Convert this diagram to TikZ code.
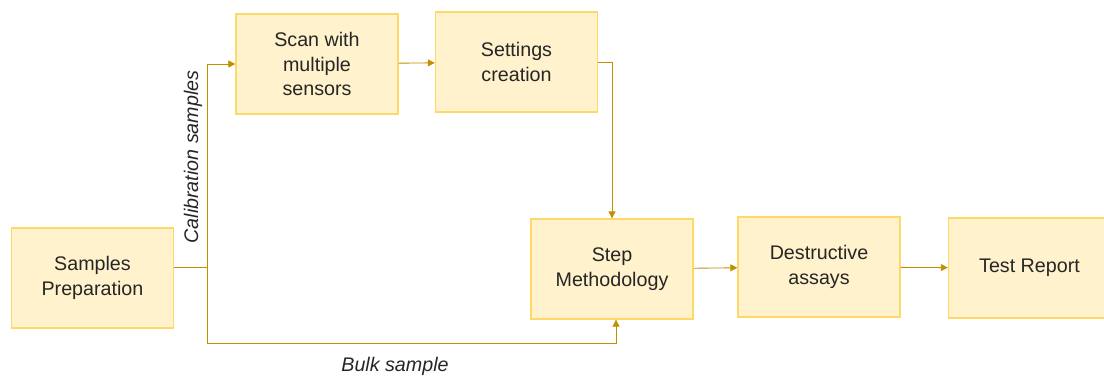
\documentclass[tikz,border=0pt]{standalone}
\usepackage{fontspec}
\setmainfont{Liberation Sans}
\usetikzlibrary{arrows.meta}
\definecolor{boxfill}{HTML}{FFF2CC}
\definecolor{boxline}{HTML}{FFD966}
\definecolor{flowline}{HTML}{BF9000}
\begin{document}
\begin{tikzpicture}[x=0.025cm,y=-0.025cm,
    box/.style={draw=boxline,line width=0.9pt,fill=boxfill,minimum width=4.05cm,
      minimum height=2.5cm,align=center,text=black!85,
      font=\fontsize{14}{17.5}\selectfont},
    lbl/.style={text=black!85,font=\fontsize{14}{17.5}\selectfont\itshape},
    flow/.style={draw=flowline,line width=0.6pt,-{Triangle[length=5pt,width=5pt]}}]
  \useasboundingbox (0,0) rectangle (1104,376);
  \draw
    (92.5,278) node[box] (prep){Samples\\Preparation}
    (317,64) node[box] (scan){Scan with\\multiple\\sensors}
    (516.5,62) node[box] (set){Settings\\creation}
    (612,269) node[box] (step){Step\\Methodology}
    (819,267) node[box] (destr){Destructive\\assays}
    (1029.5,268) node[box] (rep){Test Report};
  \coordinate (split) at (207,267);
  \coordinate (bulk) at (616,343);
  \node[lbl,rotate=90] (cal) at (193,157) {Calibration samples};
  \node[lbl] (bulklbl) at (395,366) {Bulk sample};
  \begin{scope}[flow]
    \draw[-] (prep.east |- split) -- (split);
    \draw (split) |- (scan.west);
    \draw (split) |- (bulk) -- (bulk |- step.south);
    \draw (scan) -- (set);
    \draw (set.east) -| (step.north);
    \draw (step) -- (destr);
    \draw (destr) -- (rep);
  \end{scope}
\end{tikzpicture}
\end{document}
